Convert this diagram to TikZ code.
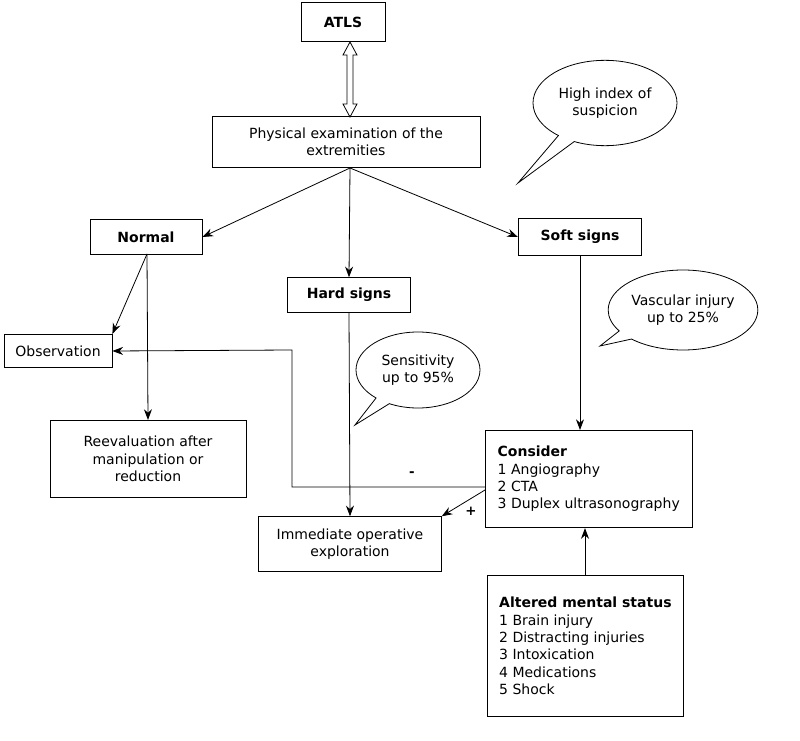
\documentclass[tikz,border=0pt]{standalone}
\usepackage{fontspec}
\setmainfont{DejaVu Sans}
\usetikzlibrary{arrows.meta,shapes.callouts}
\begin{document}
\begin{tikzpicture}[x=0.75pt,y=-0.75pt,line width=0.6pt,
 box/.style={draw,inner sep=0pt,font=\fontsize{10.5}{13}\selectfont,align=center},
 arr/.style={-{Stealth[length=8pt,width=6pt]}},
 bub/.style={ellipse callout,draw,font=\fontsize{10.5}{13}\selectfont,align=center,inner sep=1pt}]
\useasboundingbox (0,0) rectangle (800,741);
\node[box,minimum width=63pt,minimum height=29pt,font=\fontsize{10.5}{13}\selectfont\bfseries] (atls) at (343,22) {ATLS};
\node[box,minimum width=201pt,minimum height=38pt] (pe) at (346,142) {Physical examination of the\\extremities};
\node[box,minimum width=84pt,minimum height=26pt,font=\fontsize{10.5}{13}\selectfont\bfseries] (nor) at (146,237) {Normal};
\node[box,minimum width=92pt,minimum height=26pt,font=\fontsize{10.5}{13}\selectfont\bfseries] (hard) at (349,295) {Hard signs};
\node[box,line width=1.2pt,minimum width=92pt,minimum height=28pt,font=\fontsize{10.5}{13}\selectfont\bfseries] (soft) at (580,237) {Soft signs};
\node[box,minimum width=81pt,minimum height=25pt] (obs) at (58,351) {Observation};
\node[box,minimum width=147pt,minimum height=58pt] (reev) at (148,459) {Reevaluation after\\manipulation or\\reduction};
\node[box,minimum width=155pt,minimum height=73pt,align=left,inner xsep=4pt,anchor=north west] (cons) at (485,430) {\textbf{Consider}\\1 Angiography\\2 CTA\\3 Duplex ultrasonography};
\node[box,minimum width=137pt,minimum height=41pt] (imm) at (350,544) {Immediate operative\\exploration};
\node[box,minimum width=147pt,minimum height=106pt,align=left,inner xsep=4pt,anchor=north west] (alt) at (487,575) {\textbf{Altered mental status}\\1 Brain injury\\2 Distracting injuries\\3 Intoxication\\4 Medications\\5 Shock};
\node[bub,minimum width=108pt,minimum height=64pt,callout absolute pointer={(518,183)}] (b1) at (605,103) {High index of\\suspicion};
\node[bub,minimum width=102pt,minimum height=60pt,callout absolute pointer={(600,346)}] (b2) at (683,310) {Vascular injury\\up to 25\%};
\node[bub,minimum width=93pt,minimum height=57pt,callout absolute pointer={(355,425)}] (b3) at (418,370) {Sensitivity\\up to 95\%};
\draw (350,42) -- (343,55) -- (347,55) -- (347,104) -- (343,104) -- (350,117) -- (357,104) -- (353,104) -- (353,55) -- (357,55) -- cycle;
\coordinate (pb) at (350,168);
\draw[arr] (pb) -- (nor.east);
\draw[arr] (pb) -- (hard.north);
\draw[arr] (pb) -- (soft.west);
\coordinate (nb) at (147,254);
\draw[arr] (nb) -- (obs.north east);
\draw[arr] (nb) -- (reev.north);
\draw[arr] (hard.south) -- (imm.north);
\draw[arr] (soft.south) -- (cons.north-|soft.south);
\draw[arr] (cons.west|-0,487) -- (292,487) -- (292,350) -- (obs.east);
\node[font=\bfseries] (minus) at (412,474) {-};
\draw[arr] (cons.west|-0,490) -- (imm.north east);
\node[font=\bfseries] (plus) at (471,511) {+};
\draw[arr] (alt.north-|585,0) -- (cons.south-|585,0);
\end{tikzpicture}
\end{document}
